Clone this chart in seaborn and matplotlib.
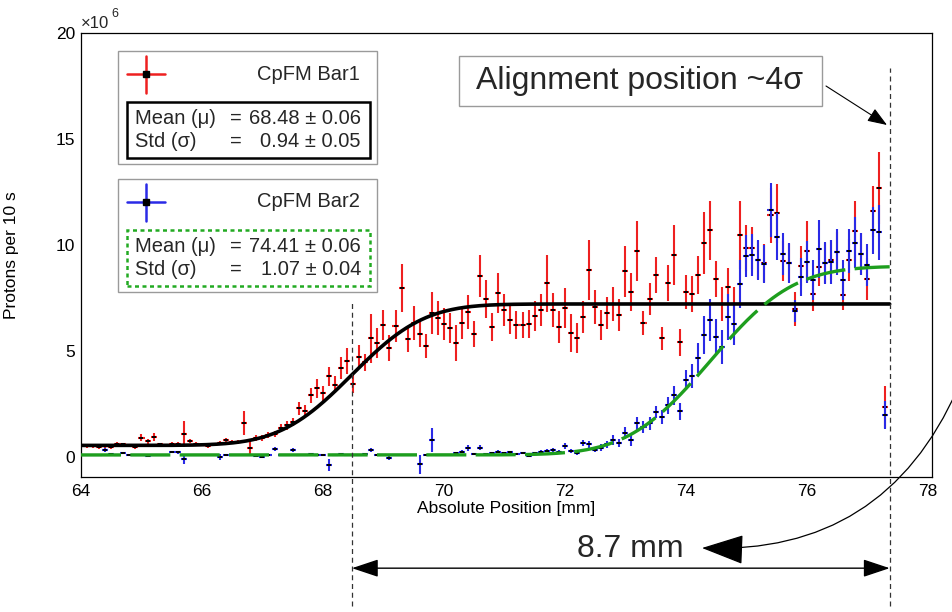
import math
import numpy as np
import pandas as pd
import matplotlib
matplotlib.use("Agg")
import matplotlib.pyplot as plt
from matplotlib.patches import Rectangle, FancyArrowPatch
from matplotlib.lines import Line2D
from matplotlib.ticker import MultipleLocator
import seaborn as sns

# ---- scan positions [mm] ----
position_mm = [
    64.0, 64.1, 64.2, 64.3, 64.4, 64.5, 64.6, 64.7, 64.8, 64.9,
    65.0, 65.1, 65.2, 65.3, 65.4, 65.5, 65.6, 65.7, 65.8, 65.9,
    66.0, 66.1, 66.2, 66.3, 66.4, 66.5, 66.6, 66.7, 66.8, 66.9,
    67.0, 67.1, 67.2, 67.3, 67.4, 67.5, 67.6, 67.7, 67.8, 67.9,
    68.0, 68.1, 68.2, 68.3, 68.4, 68.5, 68.6, 68.7, 68.8, 68.9,
    69.0, 69.1, 69.2, 69.3, 69.4, 69.5, 69.6, 69.7, 69.8, 69.9,
    70.0, 70.1, 70.2, 70.3, 70.4, 70.5, 70.6, 70.7, 70.8, 70.9,
    71.0, 71.1, 71.2, 71.3, 71.4, 71.5, 71.6, 71.7, 71.8, 71.9,
    72.0, 72.1, 72.2, 72.3, 72.4, 72.5, 72.6, 72.7, 72.8, 72.9,
    73.0, 73.1, 73.2, 73.3, 73.4, 73.5, 73.6, 73.7, 73.8, 73.9,
    74.0, 74.1, 74.2, 74.3, 74.4, 74.5, 74.6, 74.7, 74.8, 74.9,
    75.0, 75.1, 75.2, 75.3, 75.4, 75.5, 75.6, 75.7, 75.8, 75.9,
    76.0, 76.1, 76.2, 76.3, 76.4, 76.5, 76.6, 76.7, 76.8, 76.9,
    77.0, 77.1, 77.2, 77.3,
]
POS_ERR = 0.05

# ---- CpFM Bar1 rate [1e6 protons / 10 s] ----
bar1_rate = [
    0.55, 0.50, 0.52, 0.48, 0.50, 0.47, 0.62, 0.60, 0.55, 0.48,
    0.92, 0.75, 0.95, 0.60, 0.55, 0.62, 0.60, 1.08, 0.75, 0.62,
    0.58, 0.50, 0.60, 0.65, 0.80, 0.70, 0.72, 1.60, 0.45, 0.90,
    0.90, 1.04, 1.10, 1.37, 1.50, 1.65, 2.30, 2.17, 2.92, 3.25,
    3.00, 3.82, 3.40, 4.20, 4.53, 3.45, 4.72, 4.48, 5.60, 5.38,
    6.23, 5.14, 6.18, 7.97, 5.57, 6.32, 5.80, 5.24, 6.79, 6.56,
    6.27, 6.08, 5.38, 6.32, 6.84, 5.80, 8.54, 7.45, 6.13, 7.74,
    6.93, 6.46, 6.23, 6.23, 6.27, 6.65, 6.93, 8.20, 6.93, 6.13,
    7.03, 5.85, 5.60, 6.60, 8.82, 7.08, 6.23, 6.79, 7.22, 6.70,
    8.77, 7.78, 9.72, 6.32, 7.45, 8.58, 5.60, 8.20, 9.53, 5.42,
    7.78, 7.69, 8.58, 10.10, 10.70, 8.40, 7.22, 8.02, 7.22, 10.47,
    9.86, 9.86, 9.30, 9.15, 11.40, 11.50, 9.25, 9.15, 7.00, 9.00,
    9.72, 7.69, 8.96, 9.15, 9.30, 9.67, 7.64, 9.30, 10.66, 9.58,
    8.40, 11.60, 12.70, 2.36,
]
bar1_err = [
    0.08, 0.08, 0.08, 0.08, 0.08, 0.08, 0.10, 0.08, 0.08, 0.08,
    0.15, 0.12, 0.18, 0.08, 0.08, 0.08, 0.10, 0.60, 0.10, 0.08,
    0.08, 0.08, 0.08, 0.10, 0.12, 0.10, 0.10, 0.55, 0.30, 0.12,
    0.12, 0.15, 0.15, 0.18, 0.20, 0.20, 0.30, 0.28, 0.35, 0.45,
    0.35, 0.45, 0.40, 0.50, 0.60, 0.45, 0.55, 0.40, 1.15, 0.70,
    0.70, 0.60, 0.75, 1.15, 0.63, 0.80, 0.60, 0.55, 1.00, 0.80,
    0.75, 0.70, 0.87, 0.75, 0.80, 0.60, 1.00, 0.90, 0.65, 0.95,
    0.75, 0.65, 0.65, 0.63, 0.65, 0.70, 0.75, 1.35, 0.80, 0.75,
    0.95, 0.90, 0.70, 0.75, 1.40, 0.80, 0.70, 0.75, 0.80, 0.75,
    1.20, 0.90, 1.40, 0.55, 0.75, 0.85, 0.55, 0.85, 1.40, 0.63,
    0.80, 0.85, 0.90, 1.45, 1.40, 0.85, 0.80, 0.90, 0.80, 1.60,
    1.10, 1.00, 0.90, 0.90, 1.30, 1.40, 0.95, 0.90, 0.80, 0.95,
    1.40, 0.80, 0.90, 0.95, 0.95, 0.95, 0.70, 1.00, 1.40, 1.00,
    1.00, 1.20, 1.70, 1.00,
]

# ---- CpFM Bar2 rate [1e6 protons / 10 s] ----
bar2_rate = [
    0.10, 0.12, 0.08, 0.10, 0.33, 0.15, 0.10, 0.19, 0.12, 0.08,
    0.10, 0.05, 0.10, 0.12, 0.10, 0.24, 0.22, -0.10, 0.10, 0.12,
    0.10, 0.08, 0.10, 0.00, 0.10, 0.12, 0.10, 0.08, 0.12, 0.05,
    0.00, 0.10, 0.38, 0.10, 0.12, 0.33, 0.12, 0.10, 0.15, 0.10,
    0.12, -0.38, 0.10, 0.15, 0.12, 0.12, 0.10, 0.15, 0.33, 0.12,
    0.10, -0.05, 0.12, 0.10, 0.12, 0.10, -0.33, 0.10, 0.80, 0.12,
    0.10, 0.12, 0.20, 0.25, 0.42, 0.15, 0.45, 0.15, 0.18, 0.25,
    0.20, 0.22, 0.15, 0.18, 0.05, 0.20, 0.25, 0.30, 0.35, 0.25,
    0.52, 0.30, 0.20, 0.66, 0.60, 0.35, 0.45, 0.60, 0.80, 0.66,
    1.13, 0.80, 1.60, 1.42, 1.60, 2.12, 1.89, 2.45, 2.92, 2.17,
    3.63, 3.82, 4.67, 5.75, 6.46, 5.66, 5.19, 6.60, 6.27, 8.16,
    9.48, 9.53, 9.30, 9.10, 11.65, 10.40, 9.58, 9.15, 6.89, 8.50,
    9.20, 8.35, 9.81, 9.15, 9.20, 9.67, 8.35, 9.72, 10.10, 9.58,
    9.06, 10.70, 10.60, 1.98,
]
bar2_err = [
    0.04, 0.04, 0.04, 0.04, 0.10, 0.04, 0.04, 0.06, 0.04, 0.04,
    0.04, 0.04, 0.04, 0.04, 0.04, 0.06, 0.06, 0.22, 0.04, 0.04,
    0.04, 0.04, 0.04, 0.15, 0.04, 0.04, 0.04, 0.04, 0.04, 0.04,
    0.04, 0.04, 0.10, 0.04, 0.04, 0.08, 0.04, 0.04, 0.04, 0.04,
    0.04, 0.30, 0.04, 0.05, 0.04, 0.04, 0.04, 0.04, 0.08, 0.04,
    0.04, 0.10, 0.04, 0.04, 0.04, 0.04, 0.45, 0.04, 0.55, 0.04,
    0.04, 0.04, 0.06, 0.06, 0.15, 0.05, 0.12, 0.05, 0.05, 0.06,
    0.06, 0.06, 0.05, 0.05, 0.05, 0.06, 0.08, 0.08, 0.10, 0.08,
    0.12, 0.10, 0.08, 0.15, 0.15, 0.10, 0.15, 0.15, 0.25, 0.20,
    0.30, 0.28, 0.30, 0.30, 0.30, 0.28, 0.35, 0.40, 0.45, 0.40,
    0.47, 0.55, 0.70, 0.90, 1.00, 0.85, 0.80, 1.10, 1.00, 1.14,
    1.00, 1.00, 0.95, 0.90, 1.26, 1.10, 1.00, 0.95, 0.53, 0.90,
    1.00, 0.95, 1.37, 1.00, 1.05, 1.10, 0.95, 1.05, 1.20, 1.00,
    1.00, 1.10, 1.30, 0.67,
]

# ---- error-function fit results ----
bar1_mu, bar1_sigma = 68.48, 0.94
bar1_base, bar1_plateau = 0.55, 7.22
bar2_mu, bar2_sigma = 74.41, 1.07
bar2_base, bar2_plateau = 0.10, 9.00
ALIGN_POS = 77.37

bar1_labels = ("Mean (\u03bc)", "68.48 \u00b1 0.06", "Std (\u03c3)", "0.94 \u00b1 0.05")
bar2_labels = ("Mean (\u03bc)", "74.41 \u00b1 0.06", "Std (\u03c3)", "1.07 \u00b1 0.04")

RED, BLUE, GREEN = "#ee2020", "#2a2ae6", "#1e9e1e"
W, H = 953, 612

sns.set_theme(style="white")
plt.rcParams["font.family"] = ["Liberation Sans", "DejaVu Sans"]

_erf = np.vectorize(math.erf)


def erf_step(x, base, plateau, mu, sigma):
    return base + (plateau - base) * 0.5 * (1.0 + _erf((x - mu) / (sigma * math.sqrt(2.0))))


def fx(px):
    return px / W


def fy(py):
    return 1.0 - py / H


fig = plt.figure(figsize=(W / 100, H / 100), dpi=100)
fig.patch.set_facecolor("white")
ax = fig.add_axes([fx(81), fy(477), (932 - 81) / W, (477 - 33) / H])
ax.set_facecolor("white")

df = pd.DataFrame({"pos": position_mm,
                   "bar1": bar1_rate, "bar1_err": bar1_err,
                   "bar2": bar2_rate, "bar2_err": bar2_err})

# measured points with errors
ax.errorbar(df["pos"], df["bar1"], yerr=df["bar1_err"], xerr=POS_ERR, fmt="none",
            ecolor=RED, elinewidth=1.5, capsize=0, zorder=2)
sns.scatterplot(data=df, x="pos", y="bar1", marker="_", color="black", s=9,
                linewidth=1.4, ax=ax, zorder=2.5, legend=False)
ax.errorbar(df["pos"], df["bar2"], yerr=df["bar2_err"], xerr=POS_ERR, fmt="none",
            ecolor=BLUE, elinewidth=1.5, capsize=0, zorder=3)
sns.scatterplot(data=df, x="pos", y="bar2", marker="_", color="black", s=9,
                linewidth=1.4, ax=ax, zorder=3.5, legend=False)

# fitted curves
xs = np.linspace(64.0, ALIGN_POS, 500)
fit = pd.DataFrame({"x": xs,
                    "f1": erf_step(xs, bar1_base, bar1_plateau, bar1_mu, bar1_sigma),
                    "f2": erf_step(xs, bar2_base, bar2_plateau, bar2_mu, bar2_sigma)})
sns.lineplot(data=fit, x="x", y="f1", color="black", linewidth=2.6, ax=ax, zorder=4)
sns.lineplot(data=fit, x="x", y="f2", color=GREEN, linewidth=2.4, ax=ax, zorder=5)
ax.lines[-1].set_dashes((12, 2.8))

# axes styling
ax.set_xlim(64.0, 78.07)
ax.set_ylim(-0.94, 20.0)
ax.xaxis.set_major_locator(MultipleLocator(2))
ax.xaxis.set_minor_locator(MultipleLocator(0.5))
ax.yaxis.set_major_locator(MultipleLocator(5))
ax.yaxis.set_minor_locator(MultipleLocator(1))
ax.tick_params(which="both", direction="in", top=False, right=False,
               color="black", width=0.8, labelcolor="black")
ax.tick_params(axis="y", which="major", length=18.7, labelsize=12.5, pad=4)
ax.tick_params(axis="y", which="minor", length=9.4)
ax.tick_params(axis="x", which="major", length=9.4, labelsize=12.5, pad=5)
ax.tick_params(axis="x", which="minor", length=4.7)
for sp in ax.spines.values():
    sp.set_visible(True)
    sp.set_color("black")
    sp.set_linewidth(0.9)

ax.set_xlabel("Absolute Position [mm]", fontsize=12.5, color="black")
ax.xaxis.label.set_va("center")
ax.xaxis.set_label_coords(0.5, -(509 - 477) / 444)
ax.set_ylabel("Protons per 10 s", fontsize=12.5, color="black")
ax.yaxis.label.set_va("center")
ax.yaxis.set_label_coords(-(81 - 12) / 851, 0.5)

fig.text(fx(81), fy(24), "\u00d710", fontsize=12, ha="left", va="center")
fig.text(fx(111), fy(14), "6", fontsize=9, ha="left", va="center")

# vertical markers at the Bar1 mean and at the alignment position
y_low = -7.03
ax.plot([bar1_mu, bar1_mu], [y_low, 7.4], ls=(0, (4, 3)), color="#333333",
        lw=0.9, clip_on=False, zorder=6)
ax.plot([ALIGN_POS, ALIGN_POS], [y_low, 18.35], ls=(0, (4, 3)), color="#333333",
        lw=0.9, clip_on=False, zorder=6)

# distance arrow
y_arrow = -5.24
ax.annotate("", xy=(bar1_mu, y_arrow), xytext=(ALIGN_POS, y_arrow),
            arrowprops=dict(arrowstyle="<|-|>,head_length=1.65,head_width=0.55",
                            mutation_scale=10, color="black", lw=1.0,
                            shrinkA=0, shrinkB=0),
            annotation_clip=False)
fig.text(fx(630), fy(549), "8.7 mm", fontsize=23, ha="center", va="center")

# alignment annotation
fig.add_artist(Rectangle((fx(459), fy(106)), (822 - 459) / W, (106 - 56) / H,
                         transform=fig.transFigure, facecolor="white",
                         edgecolor="#9a9a9a", lw=1.0, zorder=7))
fig.text(fx(640), fy(81), "Alignment position ~4\u03c3", fontsize=23,
         ha="center", va="center", zorder=8)
fig.add_artist(FancyArrowPatch((fx(826), fy(86)), (fx(887), fy(125)),
                               transform=fig.transFigure,
                               arrowstyle="-|>,head_length=1.2,head_width=0.45",
                               mutation_scale=10, color="black", lw=0.8,
                               shrinkA=0, shrinkB=0, zorder=8))
fig.add_artist(FancyArrowPatch((fx(958), fy(388)), (fx(702), fy(548)),
                               transform=fig.transFigure,
                               connectionstyle="arc3,rad=-0.34",
                               arrowstyle="-|>,head_length=2.7,head_width=0.95",
                               mutation_scale=10, color="black", lw=0.9,
                               shrinkA=0, shrinkB=0, zorder=8))


# legend boxes
def legend_box(top, color, name, labels, inner_color, inner_style):
    fig.add_artist(Rectangle((fx(118), fy(top + 113)), (377 - 118) / W, 113 / H,
                             transform=fig.transFigure, facecolor="white",
                             edgecolor="#9a9a9a", lw=1.0, zorder=7))
    cy = top + 23
    fig.add_artist(Line2D([fx(127), fx(165)], [fy(cy), fy(cy)], color=color, lw=1.8,
                          transform=fig.transFigure, zorder=8))
    fig.add_artist(Line2D([fx(146), fx(146)], [fy(cy - 18), fy(cy + 19)], color=color,
                          lw=1.8, transform=fig.transFigure, zorder=8))
    fig.add_artist(Line2D([fx(146)], [fy(cy)], marker="s", markersize=4.5, color="black",
                          transform=fig.transFigure, zorder=9))
    fig.text(fx(360), fy(cy), name, fontsize=14.5, ha="right", va="center", zorder=9)
    fig.add_artist(Rectangle((fx(127), fy(top + 107)), (370 - 127) / W, 56 / H,
                             transform=fig.transFigure, facecolor="none",
                             edgecolor=inner_color, lw=1.8, ls=inner_style, zorder=8))
    for row, (lab, val) in enumerate([(labels[0], labels[1]), (labels[2], labels[3])]):
        y = top + 67 + 23.5 * row
        fig.text(fx(135), fy(y), lab, fontsize=14.5, ha="left", va="center", zorder=9)
        fig.text(fx(236), fy(y), "=", fontsize=14.5, ha="center", va="center", zorder=9)
        fig.text(fx(361), fy(y), val, fontsize=14.5, ha="right", va="center", zorder=9)


legend_box(51, RED, "CpFM Bar1", bar1_labels, "black", "-")
legend_box(179, BLUE, "CpFM Bar2", bar2_labels, "#22aa22", (0, (1.6, 1.4)))

fig.savefig("out.png", dpi=100, facecolor="white")
